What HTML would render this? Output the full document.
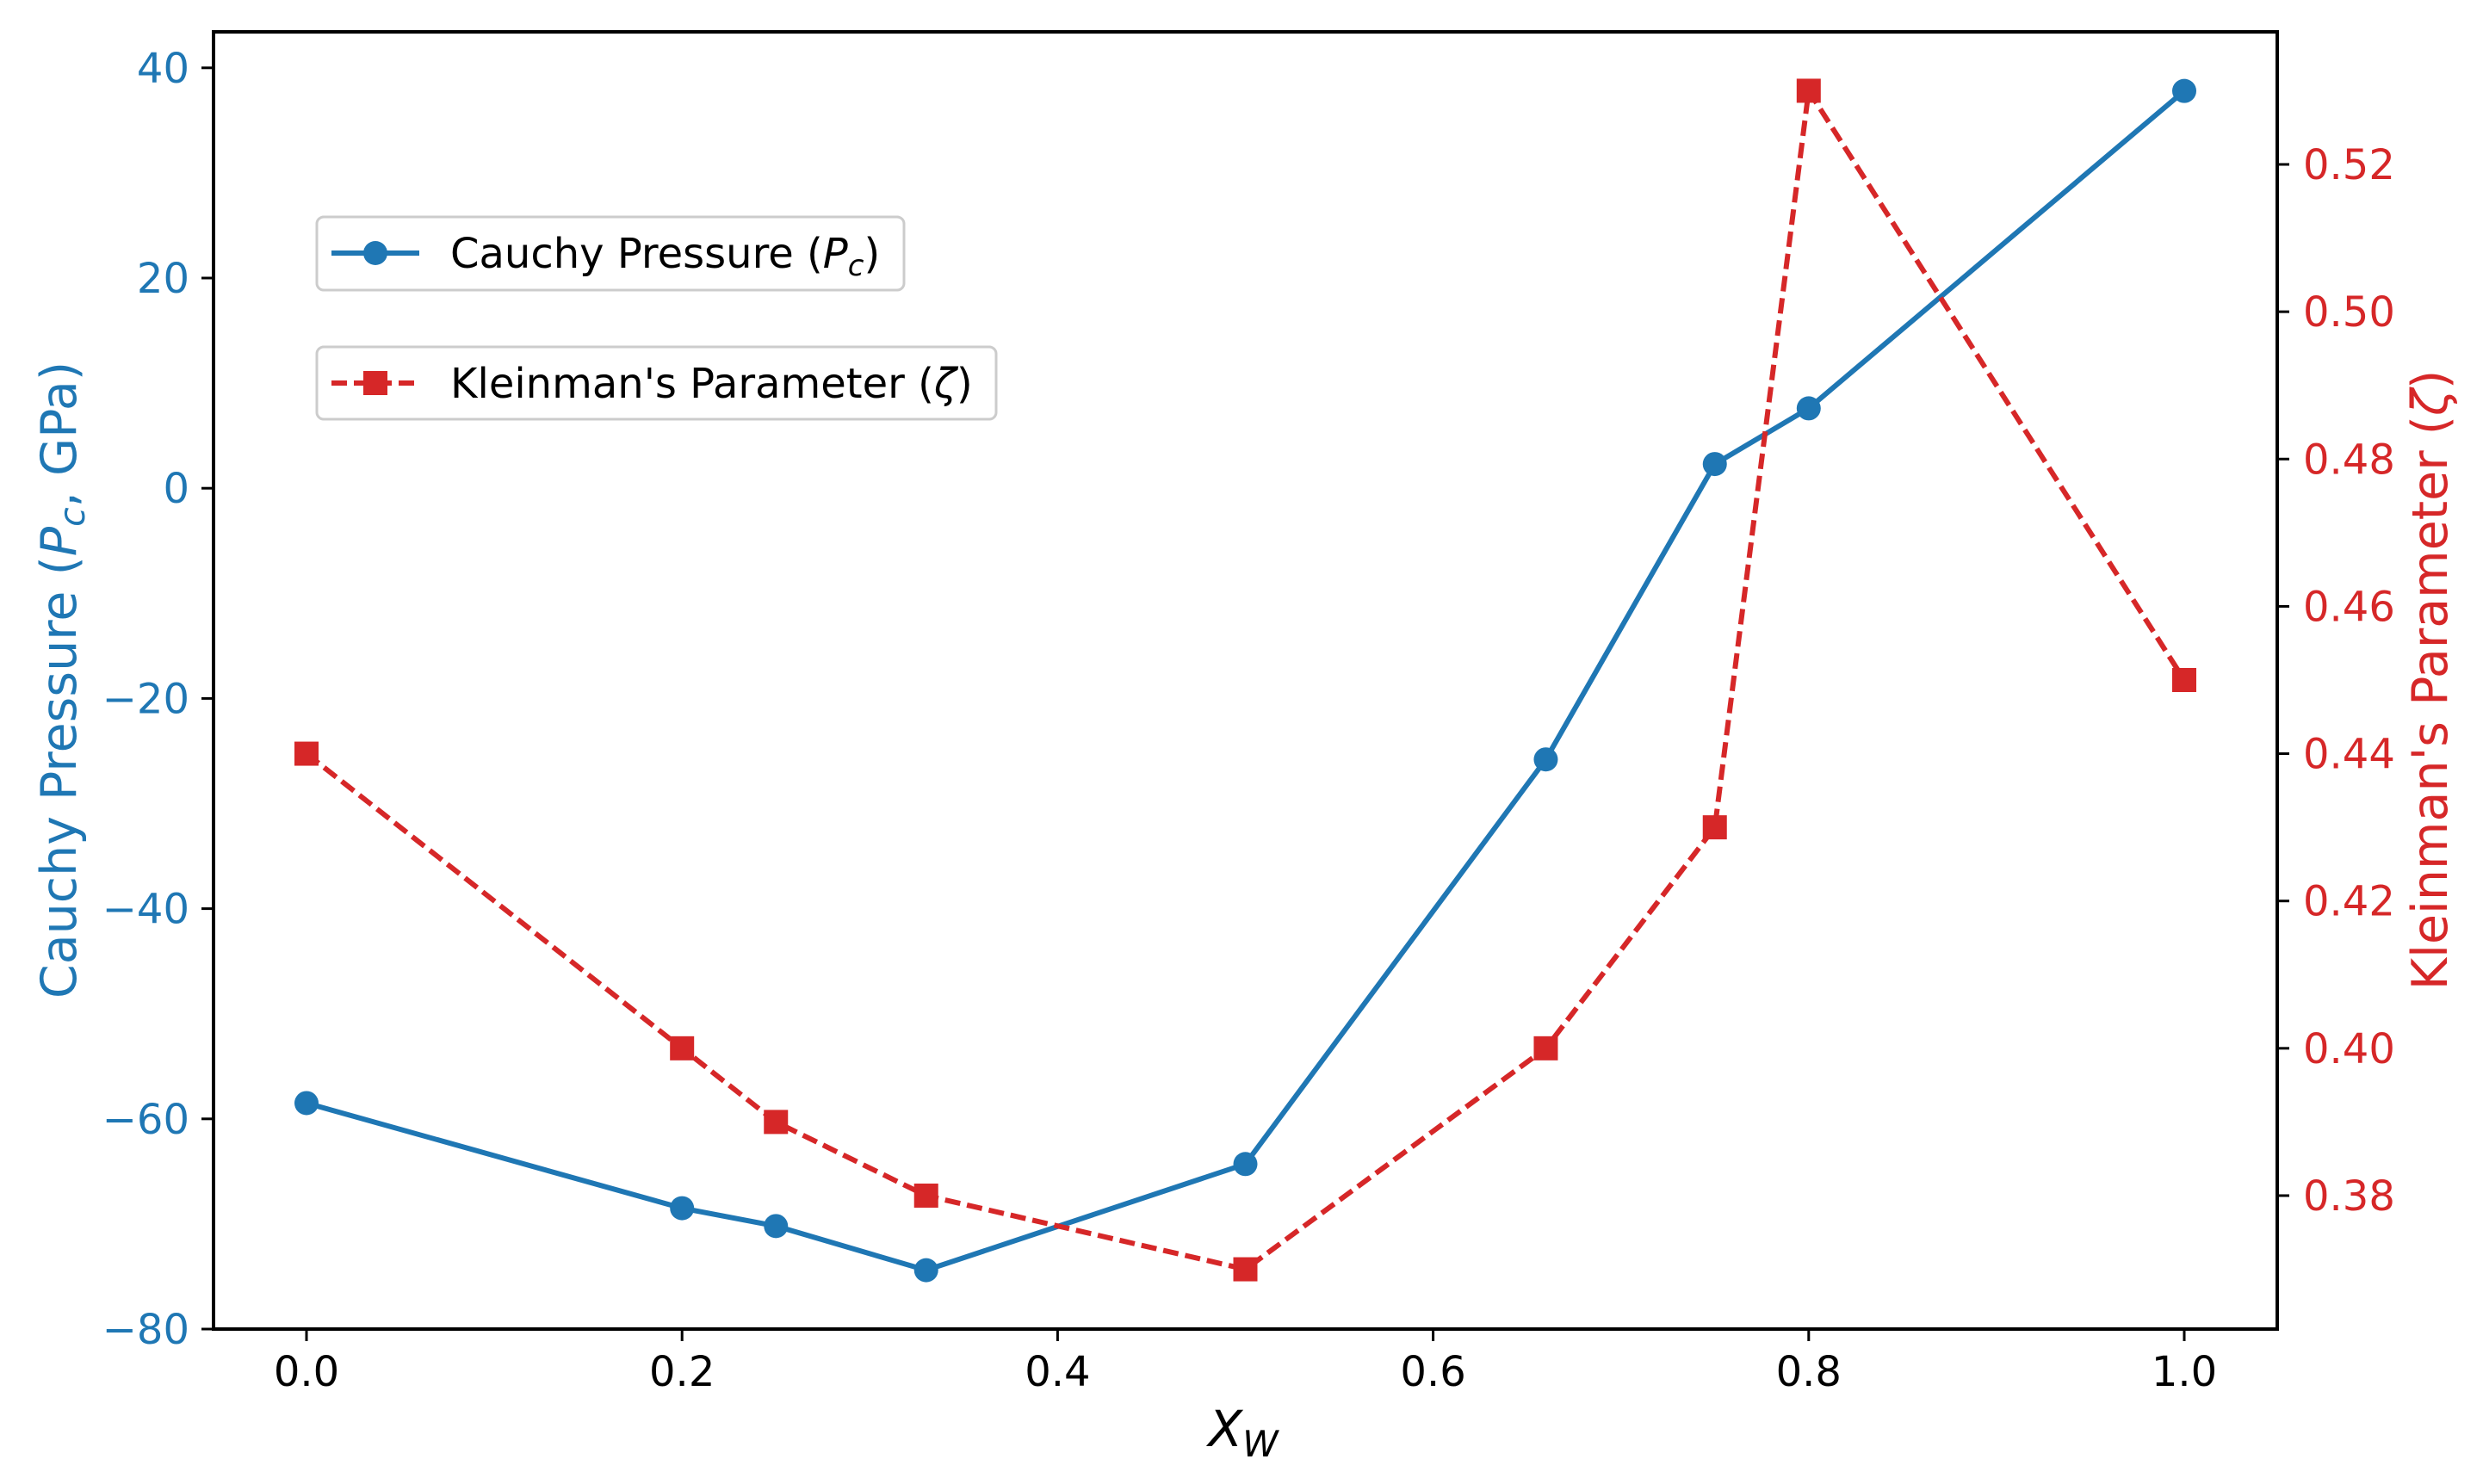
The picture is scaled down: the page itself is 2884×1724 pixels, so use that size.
<!DOCTYPE html>
<html><head><meta charset="utf-8"><style>
html,body{margin:0;padding:0;background:#fff;}
svg{display:block;font-family:"DejaVu Sans","Liberation Sans",sans-serif;}
</style></head><body>
<svg id="chart" width="2884" height="1724" viewBox="0 0 2884 1724" xmlns="http://www.w3.org/2000/svg">
<rect x="0" y="0" width="2884" height="1724" fill="#fff"/>
<g id="grid"></g>
<g id="series"></g>
<rect x="248" y="37" width="2397" height="1507" fill="none" stroke="#000" stroke-width="4"/>
<g id="axes"></g>
<text x="1444" y="1680" font-size="58" text-anchor="middle" font-style="italic">X<tspan font-size="42" dy="12">W</tspan></text>
<text transform="translate(88,790) rotate(-90)" font-size="57" fill="#1f77b4" text-anchor="middle">Cauchy Pressure (<tspan font-style="italic">P</tspan><tspan font-style="italic" font-size="41" dy="10">c</tspan><tspan dy="-10">, GPa)</tspan></text>
<text transform="translate(2842,790) rotate(-90)" font-size="57" fill="#d62728" text-anchor="middle">Kleinman's Parameter (<tspan font-style="italic">ζ</tspan>)</text>
<g>
<rect x="368" y="252" width="682" height="85" rx="8" fill="#fff" stroke="#ccc" stroke-width="3"/>
<line x1="385" y1="294" x2="487" y2="294" stroke="#1f77b4" stroke-width="6"/>
<circle cx="436" cy="294" r="14" fill="#1f77b4"/>
<text x="523" y="311" font-size="48">Cauchy Pressure (<tspan font-style="italic">P</tspan><tspan font-style="italic" font-size="34" dy="9">c</tspan><tspan dy="-9">)</tspan></text>
</g>
<g>
<rect x="368" y="403" width="789" height="84" rx="8" fill="#fff" stroke="#ccc" stroke-width="3"/>
<line x1="385" y1="445" x2="487" y2="445" stroke="#d62728" stroke-width="6" stroke-dasharray="18,8"/>
<rect x="422" y="431" width="28" height="28" fill="#d62728"/>
<text x="523" y="462" font-size="48">Kleinman's Parameter (<tspan font-style="italic">ζ</tspan>)</text>
</g>
</svg>
<script>
const xValues = [0, 0.2, 0.25, 0.33, 0.5, 0.66, 0.75, 0.8, 1.0];
const cauchyValues = [-58.5, -68.5, -70.2, -74.4, -64.3, -25.8, 2.3, 7.6, 37.8];
const kleinmanValues = [0.44, 0.40, 0.39, 0.38, 0.37, 0.40, 0.43, 0.53, 0.45];
const xTicks = [0.0, 0.2, 0.4, 0.6, 0.8, 1.0];
const xTickLabels = ["0.0", "0.2", "0.4", "0.6", "0.8", "1.0"];
const leftTicks = [40, 20, 0, -20, -40, -60, -80];
const leftTickLabels = ["40", "20", "0", "\u221220", "\u221240", "\u221260", "\u221280"];
const rightTicks = [0.52, 0.50, 0.48, 0.46, 0.44, 0.42, 0.40, 0.38];
const rightTickLabels = ["0.52", "0.50", "0.48", "0.46", "0.44", "0.42", "0.40", "0.38"];

const NS = "http://www.w3.org/2000/svg";
function xs(v){ return 356 + v * 2181; }
function yl(v){ return 1544 - (v + 80) * 12.21; }
function yr(v){ return 191 + (0.52 - v) * 8557; }
function mk(tag, attrs, parent){ const e = document.createElementNS(NS, tag); for (const k in attrs) e.setAttribute(k, attrs[k]); parent.appendChild(e); return e; }

const axes = document.getElementById('axes');
const series = document.getElementById('series');

xTicks.forEach((t, i) => {
  const l = mk('line', {x1: xs(t), x2: xs(t), y1: 1544, y2: 1558, stroke: '#000', 'stroke-width': 3}, axes);
  
  
  const tx = mk('text', {x: xs(t), y: 1610, 'font-size': 48, 'text-anchor': 'middle', fill: '#000'}, axes);
  tx.textContent = xTickLabels[i];
  
  
});
leftTicks.forEach((t, i) => {
  const l = mk('line', {x1: 234, x2: 248, y1: yl(t), y2: yl(t), stroke: '#000', 'stroke-width': 3}, axes);
  
  
  const tx = mk('text', {x: 220, y: yl(t) + 17, 'font-size': 48, 'text-anchor': 'end', fill: '#1f77b4'}, axes);
  tx.textContent = leftTickLabels[i];
  
  
});
rightTicks.forEach((t, i) => {
  const l = mk('line', {x1: 2645, x2: 2659, y1: yr(t), y2: yr(t), stroke: '#000', 'stroke-width': 3}, axes);
  
  
  const tx = mk('text', {x: 2675, y: yr(t) + 17, 'font-size': 48, 'text-anchor': 'start', fill: '#d62728'}, axes);
  tx.textContent = rightTickLabels[i];
  
  
});

const cLine = mk('polyline', {points: xValues.map((x, i) => xs(x) + ',' + yl(cauchyValues[i])).join(' '), fill: 'none', stroke: '#1f77b4', 'stroke-width': 6}, series);


const kLine = mk('polyline', {points: xValues.map((x, i) => xs(x) + ',' + yr(kleinmanValues[i])).join(' '), fill: 'none', stroke: '#d62728', 'stroke-width': 6, 'stroke-dasharray': '18,8'}, series);


xValues.forEach((x, i) => {
  const c = mk('circle', {cx: xs(x), cy: yl(cauchyValues[i]), r: 14, fill: '#1f77b4'}, series);
  
  
  const s = mk('rect', {x: xs(x) - 14, y: yr(kleinmanValues[i]) - 14, width: 28, height: 28, fill: '#d62728'}, series);
  
  
});
</script>
</body></html>
